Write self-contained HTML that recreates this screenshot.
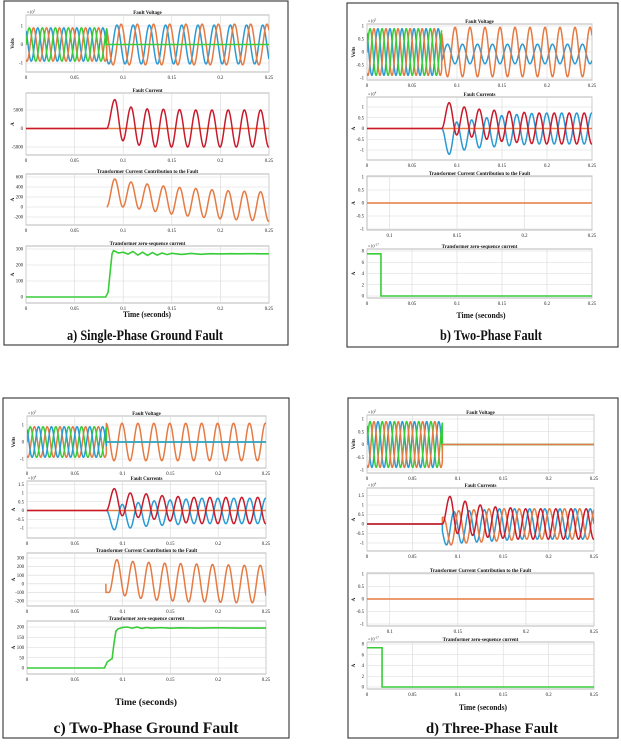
<!DOCTYPE html>
<html><head><meta charset="utf-8"><style>
html,body{margin:0;padding:0;background:#fff;}
svg{display:block;font-family:"Liberation Serif",serif;}
</style></head><body>
<svg id="fig" xmlns="http://www.w3.org/2000/svg" width="621" height="751" viewBox="0 0 621 751">
<rect x="0" y="0" width="621" height="751" fill="#fff"/>
</svg>
<script>
// ---------------- DATA ----------------
const HALF = 1/120;          // post-fault half period (60 Hz)
const HPRE = 0.0067;         // pre-fault displayed half period
const FAULT_T = 0.083;
const PRE_AMP = [0.9,-0.9];
const xTicksFull = [0,0.05,0.1,0.15,0.2,0.25];
const xTicksLabels = ['0','0.05','0.1','0.15','0.2','0.25'];
const xTicksPart = [0.1,0.15,0.2,0.25];
const xTicksPartLabels = ['0.1','0.15','0.2','0.25'];

// a) single-phase ground
const aVoltBluePost = [1.05,-1.05];
const aVoltOrangePost = [1.1,-1.1];
const aFaultCurrent = [0,7800,-3300,5800,-4500,5300,-5000,5200,-5000,5100,-5000,5000,-5000,5000,-5000,5000,-5000,5000,-5000,5000,-5000,5000,-5000];
const aTrafoCurrent = [0,560,0,500,-40,460,-90,420,-140,390,-180,370,-210,345,-235,325,-255,315,-270,305,-285,300,-300];
const aZeroSeqT = [0,0.082,0.0845,0.087,0.0885,0.09,0.092,0.095,0.1,0.105,0.11,0.115,0.12,0.125,0.13,0.135,0.14,0.145,0.15,0.16,0.17,0.18,0.19,0.2,0.21,0.22,0.23,0.24,0.25];
const aZeroSeqV = [0,0,30,180,270,290,285,275,280,268,285,262,280,260,278,262,275,265,273,266,272,267,271,269,271,270,271,270,270];
// b) two-phase
const bVoltOrangePost = [0.95,-0.95];
const bVoltBluePost = [-0.45,0.3];
const bCurRed = [0,1.2,-0.3,1.0,-0.4,0.9,-0.5,0.85,-0.6,0.8,-0.65,0.75,-0.7,0.72,-0.72];
const bCurBlue = [0,-1.2,0.3,-1.0,0.4,-0.9,0.5,-0.85,0.6,-0.8,0.65,-0.75,0.7,-0.72,0.72];
const bZeroSeqT = [0,0.0155,0.0155,0.25];
const bZeroSeqV = [7.5,7.5,0,0];
// c) two-phase ground
const cVoltOrangePost = [1.1,-1.1];
const cCurRed = [0,1.25,-0.3,1.0,-0.4,0.95,-0.5,0.85,-0.6,0.8,-0.7,0.75,-0.75];
const cCurBlue = [0,-1.1,0.35,-1.0,0.45,-0.9,0.55,-0.85,0.6,-0.8,0.65,-0.75,0.7];
const cTrafoCurrent = [-100,280,-140,260,-170,250,-190,240,-200,235,-210,230,-210,225,-215,220,-220,215,-220];
const cZeroSeqT = [0,0.081,0.084,0.087,0.089,0.091,0.093,0.095,0.1,0.105,0.11,0.115,0.12,0.125,0.13,0.14,0.15,0.16,0.18,0.2,0.22,0.25];
const cZeroSeqV = [0,0,30,40,45,120,180,190,198,200,194,200,193,198,195,197,194,196,195,196,195,195];
// d) three-phase
const dCurRed = [0,1.45,-0.5,1.2,-0.6,1.0,-0.7,0.9,-0.75,0.85,-0.8,0.8,-0.8];
const dCurBlue = [0.2,-1.1,0.65,-1.0,0.7,-0.95,0.75,-0.9,0.8,-0.85,0.8,-0.8];
const dCurOrange = [0.35,-1.1,0.7,-1.0,0.75,-0.95,0.8,-0.9,0.8,-0.85,0.8,-0.8];
const dZeroSeqT = [0,0.0166,0.0166,0.25];
const dZeroSeqV = [7.3,7.3,0,0];

// ---------------- RENDER ----------------
const NS='http://www.w3.org/2000/svg';
const svg=document.getElementById('fig');
const C={blue:'#2a9ad4',orange:'#e57a42',green:'#38cc38',red:'#c81a2c'};
function mk(tag,attrs,parent){const e=document.createElementNS(NS,tag);for(const k in attrs)e.setAttribute(k,attrs[k]);(parent||svg).appendChild(e);return e;}

function extAt(ext,k){if(k<0)return ext[0];if(k<ext.length)return ext[k];const n=ext.length;return ext[n-2+((k-n)%2)];}
function segVal(s,t){
  if(t<s.t0)return s.ext[0];
  const u=(t-s.t0)/s.h;const k=Math.floor(u);const f=u-k;
  const a=extAt(s.ext,k),b=extAt(s.ext,k+1);
  return a+(b-a)*(1-Math.cos(Math.PI*f))/2;
}
function pre(t0){return {ts:0,te:FAULT_T,t0:t0,h:HPRE,ext:PRE_AMP};}
function flat(ts,te,v){return {ts:ts,te:te,t0:ts,h:HALF,ext:[v,v]};}

function makeAxes(cfg){
  const g=mk('g',{});
  
  
  const [xl0,xl1]=cfg.xlim;
  const sx=v=>cfg.x0+(v-xl0)/(xl1-xl0)*(cfg.x1-cfg.x0);
  const [v1,p1,v2,p2]=cfg.ymap;
  const sy=v=>p1+(v-v1)*(p2-p1)/(v2-v1);
  const bg=mk('rect',{x:cfg.x0,y:cfg.y0,width:cfg.x1-cfg.x0,height:cfg.y1-cfg.y0,fill:'#fff',stroke:'#a8a8a8','stroke-width':0.8},g);
  
  
  cfg.xticks.forEach((v,i)=>{
    const x=sx(v);
    const gl=mk('line',{x1:x,x2:x,y1:cfg.y0,y2:cfg.y1,stroke:'#d8d8d8','stroke-width':0.6},g);
    
    
    const tl=mk('text',{x:x,y:cfg.y1+7,'font-size':4.8,'text-anchor':'middle',fill:'#222'},g);
    
    
    tl.textContent=cfg.xlabels[i];
  });
  cfg.yticks.forEach(v=>{
    const y=sy(v);
    const gl=mk('line',{x1:cfg.x0,x2:cfg.x1,y1:y,y2:y,stroke:'#d8d8d8','stroke-width':0.6},g);
    
    
    const tl=mk('text',{x:cfg.x0-3,y:y+1.6,'font-size':4.8,'text-anchor':'end',fill:'#222'},g);
    
    
    tl.textContent=String(v);
  });
  const ti=mk('text',{x:(cfg.x0+cfg.x1)/2,y:cfg.y0-1.2,'font-size':5,'font-weight':'bold','text-anchor':'middle',fill:'#111'},g);
  
  
  ti.textContent=cfg.title;
  const yl=mk('text',{x:0,y:0,'font-size':5,'font-weight':'bold','text-anchor':'middle',fill:'#111',transform:`translate(${cfg.x0-12},${(cfg.y0+cfg.y1)/2}) rotate(-90)`},g);
  
  
  yl.textContent=cfg.ylabel;
  if(cfg.exp){
    const ex=mk('text',{x:cfg.x0+1,y:cfg.y0-1.5,'font-size':4.2,fill:'#222'},g);
    
    
    ex.textContent='×10';
    const sup=mk('tspan',{dy:-1.8,'font-size':3.2},ex);
    sup.textContent=cfg.exp;
  }
  const clip='clip'+cfg.name;
  const cp=mk('clipPath',{id:clip},g);
  mk('rect',{x:cfg.x0,y:cfg.y0,width:cfg.x1-cfg.x0,height:cfg.y1-cfg.y0},cp);
  const sg=mk('g',{'clip-path':`url(#${clip})`},g);
  return {sx,sy,g:sg,xlim:cfg.xlim};
}
function drawWave(ax,segs,color,name){
  let d='';
  segs.forEach(s=>{
    const a=Math.max(s.ts,ax.xlim[0]),b=Math.min(s.te,ax.xlim[1]);
    if(b<=a)return;
    for(let t=a;t<=b+1e-9;t+=0.0002){
      const tt=Math.min(t,b);
      d+=(d?'L':'M')+ax.sx(tt).toFixed(2)+','+ax.sy(segVal(s,tt)).toFixed(2);
    }
  });
  const p=mk('path',{d:d,fill:'none',stroke:color,'stroke-width':1.5,'stroke-linejoin':'round'},ax.g);
  
  
}
function drawPts(ax,ts,vs,color,name){
  let d='';
  ts.forEach((t,i)=>{d+=(i?'L':'M')+ax.sx(t).toFixed(2)+','+ax.sy(vs[i]).toFixed(2);});
  const p=mk('path',{d:d,fill:'none',stroke:color,'stroke-width':1.6},ax.g);
  
  
}
function label(x,y,txt,size,w,name){
  const t=mk('text',{x:x,y:y,'font-size':size,'font-weight':'bold','text-anchor':'middle',fill:'#111',textLength:w,lengthAdjust:'spacingAndGlyphs'});
  
  
  t.textContent=txt;
}
function frame(x,y,w,h,name){
  const r=mk('rect',{x:x,y:y,width:w,height:h,fill:'none',stroke:'#333','stroke-width':1.1});
  
  
}
const full={xlim:[0,0.25],xticks:xTicksFull,xlabels:xTicksLabels};
const part={xlim:[0.0833,0.25],xticks:xTicksPart,xlabels:xTicksPartLabels};
function cfg(o,base){return Object.assign({},base,o);}

// ---- panel frames
frame(4,1,284,344,'panel-a-frame');
frame(347,3,271,344,'panel-b-frame');
frame(3,398,286,340,'panel-c-frame');
frame(348,398,270,340,'panel-d-frame');

const preG=-0.0100, preO=-0.0057, preB=-0.0013;
// ---- panel a
let ax=makeAxes(cfg({name:'a-fault-voltage',x0:26,x1:269,y0:15,y1:72,ymap:[1,26,-1,63],yticks:[1,0,-1],title:'Fault Voltage',ylabel:'Volts',exp:'5'},full));
drawWave(ax,[pre(preB),{ts:FAULT_T,te:0.25,t0:0.0769,h:HALF,ext:aVoltBluePost}],C.blue,'a-voltage-phase-b');
drawWave(ax,[pre(preO),{ts:FAULT_T,te:0.25,t0:0.0812,h:HALF,ext:aVoltOrangePost}],C.orange,'a-voltage-phase-c');
drawWave(ax,[pre(preG),flat(FAULT_T,0.25,0)],C.green,'a-voltage-phase-a');
ax=makeAxes(cfg({name:'a-fault-current',x0:26,x1:269,y0:93,y1:155,ymap:[5000,110,-5000,147],yticks:[5000,0,-5000],title:'Fault Current',ylabel:'A'},full));
drawWave(ax,[flat(0,0.25,0)],C.orange,'a-current-zero-line');
drawWave(ax,[flat(0,FAULT_T,0),{ts:FAULT_T,te:0.25,t0:FAULT_T,h:HALF,ext:aFaultCurrent}],C.red,'a-fault-current-line');
ax=makeAxes(cfg({name:'a-transformer-current',x0:26,x1:269,y0:174,y1:225,ymap:[600,177,-200,217],yticks:[600,400,200,0,-200],title:'Transformer Current Contribution to the Fault',ylabel:'A'},full));
drawWave(ax,[{ts:FAULT_T,te:0.25,t0:FAULT_T,h:HALF,ext:aTrafoCurrent}],C.orange,'a-transformer-current-line');
ax=makeAxes(cfg({name:'a-zero-sequence',x0:26,x1:269,y0:246,y1:303,ymap:[300,249,0,297],yticks:[300,200,100,0],title:'Transformer zero-sequence current',ylabel:'A'},full));
drawPts(ax,aZeroSeqT,aZeroSeqV,C.green,'a-zero-sequence-line');
label(147,317,'Time (seconds)',8.5,48,'a-x-axis-title');
label(145,340,'a)  Single-Phase Ground Fault',15,156,'a-caption');

// ---- panel b
ax=makeAxes(cfg({name:'b-fault-voltage',x0:367,x1:592,y0:24,y1:80,ymap:[1,26,-1,78],yticks:[1,0.5,0,-0.5,-1],title:'Fault Voltage',ylabel:'Volts',exp:'5'},full));
drawWave(ax,[pre(preB),{ts:FAULT_T,te:0.25,t0:0.0811,h:HALF,ext:bVoltBluePost}],C.blue,'b-voltage-phase-b');
drawWave(ax,[pre(preO),{ts:FAULT_T,te:0.25,t0:0.0811,h:HALF,ext:bVoltOrangePost}],C.orange,'b-voltage-phase-c');
drawWave(ax,[pre(preG)],C.green,'b-voltage-phase-a');
ax=makeAxes(cfg({name:'b-fault-currents',x0:367,x1:592,y0:97,y1:160,ymap:[1,107,-1,150],yticks:[1,0.5,0,-0.5,-1],title:'Fault Currents',ylabel:'A',exp:'4'},full));
drawWave(ax,[flat(0,0.25,0)],C.orange,'b-current-zero-line');
drawWave(ax,[{ts:FAULT_T,te:0.25,t0:FAULT_T,h:HALF,ext:bCurBlue}],C.blue,'b-current-phase-c');
drawWave(ax,[flat(0,FAULT_T,0),{ts:FAULT_T,te:0.25,t0:FAULT_T,h:HALF,ext:bCurRed}],C.red,'b-current-phase-b');
ax=makeAxes(cfg({name:'b-transformer-current',x0:367,x1:592,y0:176,y1:230,ymap:[1,177,-1,229],yticks:[1,0.5,0,-0.5,-1],title:'Transformer Current Contribution to the Fault',ylabel:'A'},part));
drawWave(ax,[flat(0.0833,0.25,0)],C.orange,'b-transformer-current-line');
ax=makeAxes(cfg({name:'b-zero-sequence',x0:367,x1:592,y0:249,y1:298,ymap:[8,251,0,296],yticks:[8,6,4,2,0],title:'Transformer zero-sequence current',ylabel:'A',exp:'-17'},full));
drawPts(ax,bZeroSeqT,bZeroSeqV,C.green,'b-zero-sequence-line');
label(481,318,'Time (seconds)',8.5,49,'b-x-axis-title');
label(491,340,'b) Two-Phase Fault',15,102,'b-caption');

// ---- panel c
ax=makeAxes(cfg({name:'c-fault-voltage',x0:27,x1:266,y0:416,y1:468,ymap:[1,425,-1,459],yticks:[1,0,-1],title:'Fault Voltage',ylabel:'Volts',exp:'5'},full));
drawWave(ax,[pre(preO),{ts:FAULT_T,te:0.25,t0:0.0827,h:HALF,ext:cVoltOrangePost}],C.orange,'c-voltage-phase-a');
drawWave(ax,[pre(preG),flat(FAULT_T,0.25,0)],C.green,'c-voltage-phase-c');
drawWave(ax,[pre(preB),flat(FAULT_T,0.25,0)],C.blue,'c-voltage-phase-b');
ax=makeAxes(cfg({name:'c-fault-currents',x0:27,x1:266,y0:481,y1:538,ymap:[1,493,-1,528],yticks:[1.5,1,0.5,0,-0.5,-1],title:'Fault Currents',ylabel:'A',exp:'4'},full));
drawWave(ax,[flat(0,0.25,0)],C.orange,'c-current-zero-line');
drawWave(ax,[{ts:FAULT_T,te:0.25,t0:FAULT_T,h:HALF,ext:cCurBlue}],C.blue,'c-current-phase-c');
drawWave(ax,[flat(0,FAULT_T,0),{ts:FAULT_T,te:0.25,t0:FAULT_T,h:HALF,ext:cCurRed}],C.red,'c-current-phase-b');
ax=makeAxes(cfg({name:'c-transformer-current',x0:27,x1:266,y0:553,y1:606,ymap:[300,558,-200,601],yticks:[300,200,100,0,-100,-200],title:'Transformer Current Contribution to the Fault',ylabel:'A'},full));
drawWave(ax,[{ts:0.0825,te:0.0826,t0:0.0825,h:HALF,ext:[0,0]},{ts:0.0826,te:0.25,t0:0.0857,h:HALF,ext:cTrafoCurrent}],C.orange,'c-transformer-current-line');
ax=makeAxes(cfg({name:'c-zero-sequence',x0:27,x1:266,y0:621,y1:674,ymap:[200,627,0,668],yticks:[200,150,100,50,0],title:'Transformer zero-sequence current',ylabel:'A'},full));
drawPts(ax,cZeroSeqT,cZeroSeqV,C.green,'c-zero-sequence-line');
label(146,705,'Time (seconds)',9,62,'c-x-axis-title');
label(146,733,'c)  Two-Phase Ground Fault',16,185,'c-caption');

// ---- panel d
ax=makeAxes(cfg({name:'d-fault-voltage',x0:367,x1:594,y0:415,y1:473,ymap:[1,419,-1,470],yticks:[1,0.5,0,-0.5,-1],title:'Fault Voltage',ylabel:'Volts',exp:'5'},full));
drawWave(ax,[pre(preB),flat(FAULT_T,0.25,0)],C.blue,'d-voltage-phase-b');
drawWave(ax,[pre(preG),flat(FAULT_T,0.25,0)],C.green,'d-voltage-phase-a');
drawWave(ax,[pre(preO),flat(FAULT_T,0.25,0)],C.orange,'d-voltage-phase-c');
ax=makeAxes(cfg({name:'d-fault-currents',x0:367,x1:594,y0:488,y1:551,ymap:[1,505,-1,543],yticks:[1.5,1,0.5,0,-0.5,-1],title:'Fault Currents',ylabel:'A',exp:'4'},full));
drawWave(ax,[flat(0,FAULT_T,0),{ts:FAULT_T,te:0.25,t0:0.0792,h:HALF,ext:dCurBlue}],C.blue,'d-current-phase-b');
drawWave(ax,[flat(0,FAULT_T,0),{ts:FAULT_T,te:0.25,t0:0.0843,h:HALF,ext:dCurOrange}],C.orange,'d-current-phase-c');
drawWave(ax,[flat(0,FAULT_T,0),{ts:FAULT_T,te:0.25,t0:FAULT_T,h:HALF,ext:dCurRed}],C.red,'d-current-phase-a');
ax=makeAxes(cfg({name:'d-transformer-current',x0:367,x1:594,y0:573,y1:626,ymap:[1,574,-1,624],yticks:[1,0.5,0,-0.5,-1],title:'Transformer Current Contribution to the Fault',ylabel:'A'},part));
drawWave(ax,[flat(0.0833,0.25,0)],C.orange,'d-transformer-current-line');
ax=makeAxes(cfg({name:'d-zero-sequence',x0:367,x1:594,y0:642,y1:689,ymap:[8,644,0,687],yticks:[8,6,4,2,0],title:'Transformer zero-sequence current',ylabel:'A',exp:'-17'},full));
drawPts(ax,dZeroSeqT,dZeroSeqV,C.green,'d-zero-sequence-line');
label(483,710,'Time (seconds)',8.5,48,'d-x-axis-title');
label(492,733,'d) Three-Phase Fault',15,132,'d-caption');
</script>
</body></html>
